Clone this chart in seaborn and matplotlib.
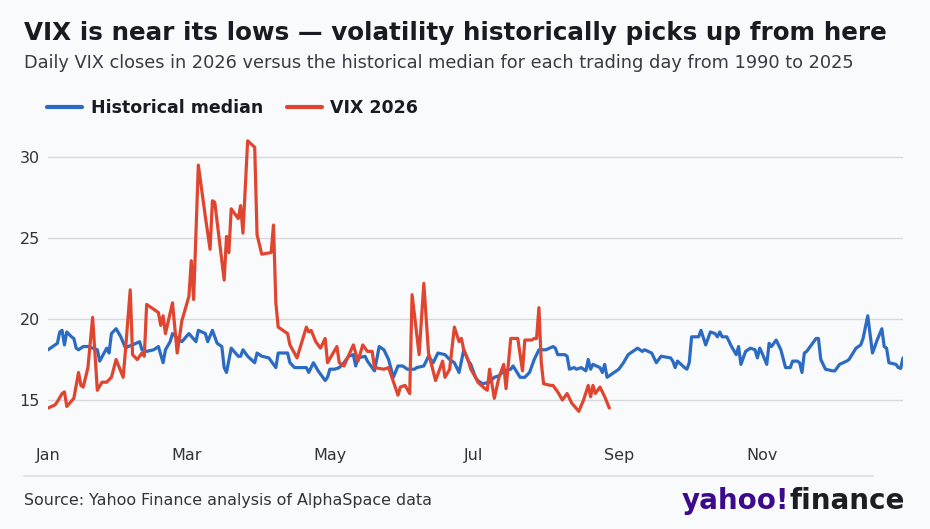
import numpy as np
import pandas as pd
import matplotlib
matplotlib.use("Agg")
import matplotlib.pyplot as plt
import matplotlib.dates as mdates
from matplotlib.lines import Line2D
import seaborn as sns

# ---------------- data (day offset from 2026-01-01, value) ----------------
vix_days = [0, 3, 4, 6, 7, 8, 11, 13, 14, 15, 17, 19, 21, 23, 25, 27, 29, 32, 33, 35,
            36, 38, 40, 41, 42, 47, 48, 49, 50, 53, 55, 57, 60, 61, 62, 64, 67, 69, 70, 71,
            75, 76, 77, 78, 81, 82, 83, 85, 88, 89, 91, 95, 96, 97, 98, 100, 102, 103, 106, 110,
            111, 112, 114, 116, 118, 119, 123, 124, 126, 130, 132, 134, 136, 138, 139, 143, 145, 149, 150, 152,
            154, 155, 158, 160, 162, 165, 168, 169, 171, 173, 175, 176, 177, 179, 180, 182, 183, 186, 187, 188,
            190, 192, 194, 195, 197, 200, 202, 203, 206, 207, 208, 209, 210, 211, 214, 215, 217, 219, 221, 223,
            226, 228, 230, 231, 232, 233, 235, 237, 239]
vix_vals = [14.5, 14.7, 14.9, 15.4, 15.5, 14.6, 15.1, 16.7, 15.9, 15.8, 17.0, 20.1, 15.6, 16.1, 16.1, 16.4, 17.5, 16.4, 18.1, 21.8,
            17.8, 17.5, 17.9, 17.7, 20.9, 20.4, 19.6, 20.2, 19.1, 21.0, 17.9, 19.9, 21.4, 23.6, 21.2, 29.5, 26.3, 24.3, 27.3, 27.2,
            22.4, 25.1, 24.1, 26.8, 26.2, 27.0, 25.3, 31.0, 30.6, 25.2, 24.0, 24.1, 25.8, 21.0, 19.5, 19.3, 19.1, 18.4, 17.6, 19.5,
            19.2, 19.3, 18.6, 18.2, 18.8, 17.3, 18.3, 17.3, 17.1, 18.4, 17.4, 18.4, 18.0, 18.0, 17.0, 16.9, 17.0, 15.3, 15.8, 15.9,
            15.4, 21.5, 17.8, 22.2, 17.9, 16.2, 17.4, 16.4, 16.9, 19.5, 18.6, 18.8, 18.1, 17.4, 16.9, 16.4, 16.1, 15.7, 15.6, 16.9,
            15.1, 16.4, 17.2, 15.7, 18.8, 18.8, 16.8, 18.7, 18.7, 18.8, 18.8, 20.7, 17.3, 16.0, 15.9, 15.9, 15.5, 15.0, 15.4, 14.8,
            14.3, 15.0, 15.9, 15.2, 15.9, 15.4, 15.8, 15.2, 14.5]

median_days = [0, 3, 4, 5, 6, 7, 8, 10, 11, 12, 13, 15, 17, 19, 21, 22, 25, 26, 27, 29,
               31, 33, 34, 36, 39, 40, 42, 45, 47, 49, 50, 52, 53, 56, 57, 60, 63, 64, 67, 68,
               70, 72, 74, 75, 76, 78, 81, 82, 83, 85, 88, 89, 91, 94, 97, 98, 102, 103, 105, 110,
               111, 113, 115, 118, 119, 120, 122, 124, 126, 128, 130, 131, 132, 135, 136, 139, 141, 143, 145, 147,
               149, 151, 153, 156, 157, 160, 162, 164, 166, 169, 171, 173, 175, 177, 179, 180, 182, 183, 185, 188,
               190, 192, 194, 197, 198, 201, 203, 205, 207, 209, 212, 215, 216, 217, 220, 221, 222, 224, 225, 227,
               229, 230, 231, 232, 235, 236, 237, 238, 239, 241, 243, 245, 247, 249, 251, 253, 254, 257, 259, 261,
               265, 266, 267, 268, 271, 272, 273, 274, 277, 278, 280, 282, 284, 285, 286, 287, 289, 291, 293, 294,
               295, 297, 299, 301, 302, 303, 304, 306, 307, 308, 310, 312, 314, 316, 317, 319, 320, 321, 322, 323,
               325, 327, 328, 329, 331, 334, 335, 337, 340, 341, 344, 346, 347, 349, 351, 353, 355, 356, 357, 358,
               361, 362, 363, 364]
median_vals = [18.1, 18.4, 18.5, 19.2, 19.3, 18.4, 19.2, 18.9, 18.8, 18.2, 18.1, 18.3, 18.3, 18.2, 18.1, 17.4, 18.2, 17.9, 19.1, 19.4,
               18.9, 18.2, 18.3, 18.4, 18.6, 18.1, 18.0, 18.1, 18.3, 17.3, 18.1, 18.6, 19.1, 18.7, 18.6, 19.1, 18.6, 19.3, 19.1, 18.6,
               19.3, 18.5, 18.3, 17.0, 16.7, 18.2, 17.7, 17.7, 18.1, 17.7, 17.3, 17.9, 17.7, 17.6, 17.0, 17.9, 17.9, 17.3, 17.0, 17.0,
               16.7, 17.3, 16.8, 16.2, 16.4, 16.9, 16.9, 17.0, 17.3, 17.7, 17.8, 17.1, 17.6, 17.7, 17.4, 16.8, 18.3, 18.1, 17.5, 16.4,
               17.1, 17.1, 16.9, 16.9, 17.0, 17.1, 17.7, 17.3, 17.9, 17.8, 17.5, 17.3, 16.7, 18.1, 17.4, 17.2, 16.4, 16.2, 16.0, 16.1,
               16.4, 16.5, 16.8, 16.9, 17.1, 16.4, 16.4, 16.7, 17.5, 18.1, 18.1, 18.3, 18.2, 17.8, 17.8, 17.7, 16.9, 17.0, 16.9, 17.0,
               16.8, 17.5, 16.9, 17.2, 17.0, 16.7, 17.2, 16.4, 16.5, 16.7, 16.9, 17.3, 17.8, 18.0, 18.2, 18.0, 18.1, 17.9, 17.3, 17.7,
               17.6, 17.4, 17.0, 17.4, 17.0, 16.9, 17.3, 18.9, 18.9, 19.3, 18.4, 19.2, 19.1, 18.9, 19.2, 18.9, 18.9, 18.3, 17.8, 18.3,
               17.2, 18.0, 18.2, 18.1, 17.6, 18.2, 17.9, 17.2, 18.5, 18.3, 18.7, 18.1, 17.0, 17.0, 17.4, 17.4, 17.3, 16.7, 17.9, 18.0,
               18.4, 18.8, 18.8, 17.5, 16.9, 16.8, 16.8, 17.2, 17.4, 17.5, 18.2, 18.4, 18.8, 20.2, 17.9, 18.7, 19.4, 18.3, 18.2, 17.3,
               17.2, 17.0, 16.95, 17.6]

series_names = ["Historical median", "VIX 2026"]
y_ticks = [15, 20, 25, 30]
month_ticks = [1, 3, 5, 7, 9, 11]

title = "VIX is near its lows \u2014 volatility historically picks up from here"
subtitle = "Daily VIX closes in 2026 versus the historical median for each trading day from 1990 to 2025"
source = "Source: Yahoo Finance analysis of AlphaSpace data"

# ---------------- build frame ----------------
start = pd.Timestamp("2026-01-01")
df = pd.concat([
    pd.DataFrame({"date": start + pd.to_timedelta(median_days, unit="D"),
                  "value": median_vals, "series": series_names[0]}),
    pd.DataFrame({"date": start + pd.to_timedelta(vix_days, unit="D"),
                  "value": vix_vals, "series": series_names[1]}),
], ignore_index=True)

BG = "#f9fafc"
BLUE = "#2b6cc2"
RED = "#e0452f"

sns.set_theme(style="white")
plt.rcParams["font.family"] = ["DejaVu Sans"]

W, H = 930, 529
fig = plt.figure(figsize=(W / 100, H / 100), dpi=100, facecolor=BG)
ax = fig.add_axes([48 / W, (H - 424.3) / H, 855 / W, 291.6 / H])
ax.set_facecolor(BG)

sns.lineplot(data=df, x="date", y="value", hue="series", hue_order=series_names,
             palette=[BLUE, RED], linewidth=2.3, ax=ax, legend=False, estimator=None)

ax.set_xlim(pd.Timestamp("2026-01-01"), pd.Timestamp("2026-12-31"))
ax.set_ylim(13.5, 31.5)
ax.set_yticks(y_ticks)
ax.yaxis.grid(True, color="#d8d8dc", linewidth=1.0)
ax.xaxis.grid(False)
ax.set_axisbelow(True)
for s in ax.spines.values():
    s.set_visible(False)
ax.xaxis.set_major_locator(mdates.MonthLocator(bymonth=month_ticks))
ax.xaxis.set_major_formatter(mdates.DateFormatter("%b"))
ax.tick_params(axis="both", length=0, labelsize=11.5, labelcolor="#333333")
ax.tick_params(axis="x", pad=17)
ax.tick_params(axis="y", pad=6)
ax.set_xlabel("")
ax.set_ylabel("")

# ---------------- texts ----------------
fig.text(24 / W, 1 - 33 / H, title, fontsize=17.7, fontweight="bold",
         color="#1a1a22", va="center", ha="left")
fig.text(24 / W, 1 - 63 / H, subtitle, fontsize=12.8, color="#3a3a44",
         va="center", ha="left")

# legend
handles = [Line2D([0], [0], color=BLUE, lw=3), Line2D([0], [0], color=RED, lw=3)]
leg = fig.legend(handles, series_names, loc="center left",
                 bbox_to_anchor=(31.5 / W, 1 - 108 / H), ncol=2, frameon=False,
                 prop={"weight": "bold", "size": 12.5}, handlelength=2.0,
                 handletextpad=0.5, columnspacing=1.4)
for t in leg.get_texts():
    t.set_color("#1a1a22")

# bottom separator
fig.add_artist(Line2D([24 / W, 873 / W], [1 - 476 / H, 1 - 476 / H],
                      color="#dcdce0", lw=1.2, transform=fig.transFigure))
fig.text(24 / W, 1 - 501 / H, source, fontsize=11.4, color="#333333",
         va="center", ha="left")

# logo as text
t1 = fig.text(905 / W, 1 - 501 / H, "finance", fontsize=20, fontweight="heavy",
              color="#1d1d24", va="center", ha="right")
fig.canvas.draw()
bb = t1.get_window_extent()
fig.text(bb.x0 / W, 1 - 501 / H, "yahoo!", fontsize=20, fontweight="heavy",
         color="#3c0a8c", va="center", ha="right")

fig.savefig("out.png", dpi=100, facecolor=BG)
